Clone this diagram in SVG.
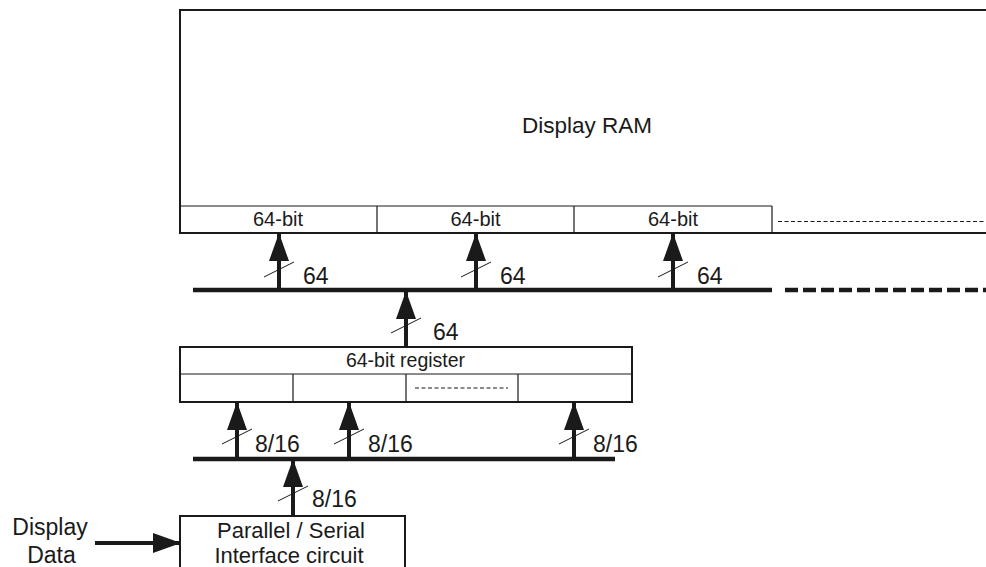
<svg xmlns="http://www.w3.org/2000/svg" width="986" height="567" viewBox="0 0 986 567">
<style>
text{font-family:"Liberation Sans",Arial,sans-serif;fill:#1a1a1a}
.big{font-size:23px}
.cell{font-size:20px;text-anchor:middle}
.box{fill:none;stroke:#1a1a1a;stroke-width:2}
.thin{fill:none;stroke:#1a1a1a;stroke-width:1.2}
.dash{fill:none;stroke:#1a1a1a;stroke-width:1.2;stroke-dasharray:4 2.5}
.bus{fill:none;stroke:#1a1a1a;stroke-width:4.5}
.busd{fill:none;stroke:#1a1a1a;stroke-width:4.5;stroke-dasharray:13 5}
.arr{fill:none;stroke:#1a1a1a;stroke-width:4;marker-end:url(#ah)}
.sl{fill:none;stroke:#1a1a1a;stroke-width:1}
</style>
<defs>
<marker id="ah" markerUnits="userSpaceOnUse" markerWidth="28" markerHeight="20" refX="27" refY="10" orient="auto">
<path d="M0,0 L28,10 L0,20 z" fill="#1a1a1a"/>
</marker>
</defs>
<rect width="986" height="567" fill="#fff"/>

<g id="display-ram">
<path class="box" d="M987,10 H180 V233 H987"/>
<path class="thin" d="M180,206 H772 M377,206 V233 M574,206 V233 M772,206 V233"/>
<path class="dash" d="M778,221.5 H986"/>
<text x="587" y="133" style="font-size:22.5px" text-anchor="middle">Display RAM</text>
<text class="cell" x="278" y="226">64-bit</text>
<text class="cell" x="475.5" y="226">64-bit</text>
<text class="cell" x="673" y="226">64-bit</text>
</g>

<g id="register">
<rect class="box" x="180" y="347" width="452" height="55"/>
<path class="thin" d="M180,374 H632 M293,374 V402 M406,374 V402 M518,374 V402"/>
<path class="dash" d="M415,388 H508"/>
<text x="405.5" y="367" style="font-size:19.5px" text-anchor="middle">64-bit register</text>
</g>

<g id="interface">
<path class="box" d="M180,568 V516 H405 V568"/>
<text x="291" y="538" style="font-size:22px" text-anchor="middle">Parallel / Serial</text>
<text x="289" y="563" style="font-size:22px" text-anchor="middle">Interface circuit</text>
</g>

<g id="display-data">
<text class="big" x="50" y="535" text-anchor="middle">Display</text>
<text class="big" x="51.5" y="563" text-anchor="middle">Data</text>
</g>

<g id="connectors">
<path class="bus" d="M193,290 H772"/>
<path class="busd" d="M785,290 H986"/>
<path class="bus" d="M193,459 H615"/>

<path class="arr" d="M279,292 V234"/>
<path class="arr" d="M476,292 V234"/>
<path class="arr" d="M673,292 V234"/>
<path class="arr" d="M406,347 V292"/>
<path class="arr" d="M237,461 V403"/>
<path class="arr" d="M349,461 V403"/>
<path class="arr" d="M574,461 V403"/>
<path class="arr" d="M293,516 V460"/>
<path class="arr" d="M95,543 H180"/>

<path class="sl" d="M264,277 L294,262 M461,277 L491,262 M658,277 L688,262 M391,333 L421,318 M222,444 L252,429 M334,444 L364,429 M559,444 L589,429 M278,501 L308,486"/>

<text class="big" x="303" y="284">64</text>
<text class="big" x="500" y="284">64</text>
<text class="big" x="697" y="284">64</text>
<text class="big" x="433" y="340">64</text>
<text class="big" x="255" y="452">8/16</text>
<text class="big" x="368" y="452">8/16</text>
<text class="big" x="593" y="452">8/16</text>
<text class="big" x="312" y="507">8/16</text>
</g>
</svg>
